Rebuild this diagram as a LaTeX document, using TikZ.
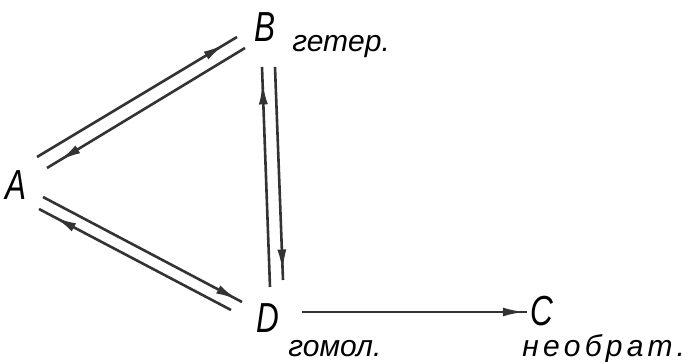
\documentclass[tikz,border=0pt]{standalone}
\usepackage{fontspec}
\setmainfont{Liberation Sans}
\usetikzlibrary{arrows.meta,decorations.markings}
\tikzset{
  letter/.style={font=\fontsize{21}{21}\selectfont\itshape, inner sep=0pt, xscale=0.75},
  note/.style={font=\fontsize{15}{15}\selectfont\itshape, inner sep=0pt, anchor=base west},
  link/.style={line width=1.3pt, draw=black!80},
  tipat/.style={postaction={decorate}, decoration={markings,
      mark=at position #1 with {\arrow[black!80]{Latex[length=11pt,width=4.5pt]}}}},
}
\begin{document}
\begin{tikzpicture}[x=0.5pt, y=-0.5pt]
  \useasboundingbox (0,0) rectangle (682,362);
  % Zustaende
  \node[letter] (A) at (16,185) {A};
  \node[letter] (B) at (265,27) {B};
  \node[letter] (D) at (268,318) {D};
  \node[letter] (C) at (542,311) {C};
  \node[note] (lblB) at (292,52) {гетер.};
  \node[note] (lblD) at (288,357) {гомол.};
  \node[note, font=\fontsize{15}{15}\selectfont\itshape\addfontfeature{LetterSpace=14}] (lblC) at (522,357) {необрат.};

  % A <-> B
  \draw[link, tipat=0.94] ([shift={(21,-28)}]A.center) -- ([shift={(-28,10)}]B.center);
  \draw[link, tipat=0.94] ([shift={(-20,21)}]B.center) -- ([shift={(31,-17)}]A.center);
  % B <-> D
  \draw[link, tipat=0.93] ([shift={(2,-31)}]D.center) -- ([shift={(-3,40)}]B.center);
  \draw[link, tipat=0.96] ([shift={(10,40)}]B.center) -- ([shift={(15,-38)}]D.center);
  % A <-> D
  \draw[link, tipat=0.98] ([shift={(27,12)}]A.center) -- ([shift={(-26,-16)}]D.center);
  \draw[link, tipat=0.92] ([shift={(-37,-8)}]D.center) -- ([shift={(23,24)}]A.center);
  % D -> C
  \draw[link, tipat=0.99] ([shift={(34,-6)}]D.center) -- ([shift={(-15,1)}]C.center);
\end{tikzpicture}
\end{document}
